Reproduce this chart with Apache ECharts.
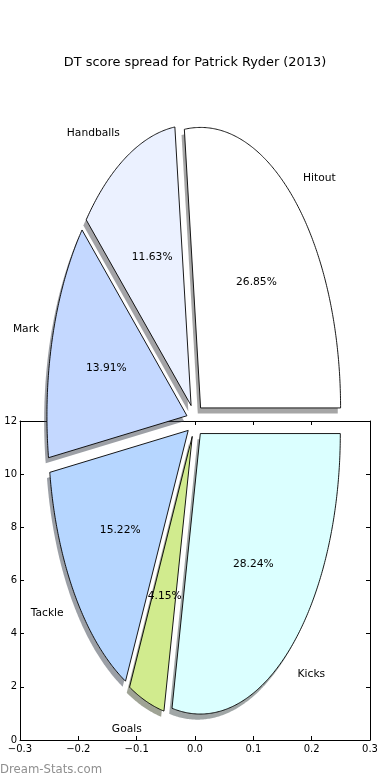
<!DOCTYPE html>
<html>
<head>
<meta charset="utf-8">
<script src="https://cdn.jsdelivr.net/npm/echarts@6/dist/echarts.min.js"></script>
<style>html,body{margin:0;padding:0;background:#fff;}#chart{width:390px;height:780px;}</style>
</head>
<body>
<div id="chart"></div>
<script>
const categories = ['Hitout', 'Handballs', 'Mark', 'Tackle', 'Goals', 'Kicks'];
const shares = [26.85, 11.63, 13.91, 15.22, 4.15, 28.24];
const xTicks = [-0.3, -0.2, -0.1, 0.0, 0.1, 0.2, 0.3];
const yTicks = [0, 2, 4, 6, 8, 10, 12];
const sliceColors = ['#ffffff', '#ebf1ff', '#c4d8ff', '#b6d6ff', '#d1eb8e', '#dbffff'];
const titleText = 'DT score spread for Patrick Ryder (2013)';
const watermark = 'Dream-Stats.com';

const EXPLODE = 0.06, LABEL_DIST = 1.1, PCT_DIST = 0.6, SH_DX = -0.02, SH_DY = -0.02;
const FONT = 'DejaVu Sans';

const total = shares.reduce((a, b) => a + b, 0);
const startDeg = [];
let acc = 0;
shares.forEach(s => { startDeg.push(acc / total * 360); acc += s; });

function hexToRgb(h) {
  return [parseInt(h.slice(1, 3), 16), parseInt(h.slice(3, 5), 16), parseInt(h.slice(5, 7), 16)];
}

function wedge(i, api, dx, dy) {
  const t1 = startDeg[i], t2 = t1 + shares[i] / total * 360;
  const mid = (t1 + t2) / 2 * Math.PI / 180;
  const ox = EXPLODE * Math.cos(mid) + dx, oy = EXPLODE * Math.sin(mid) + dy;
  const pts = [api.coord([ox, oy])];
  const n = Math.max(4, Math.ceil((t2 - t1) / 0.5));
  for (let k = 0; k <= n; k++) {
    const a = (t1 + (t2 - t1) * k / n) * Math.PI / 180;
    pts.push(api.coord([ox + Math.cos(a), oy + Math.sin(a)]));
  }
  return { pts, mid, ox, oy };
}

const chart = echarts.init(document.getElementById('chart'), null, { renderer: 'canvas' });

const axisCommon = {
  axisLine: { onZero: false, lineStyle: { color: '#000', width: 1 } },
  axisTick: { inside: true, length: 4, lineStyle: { color: '#000', width: 1 } },
  splitLine: { show: false }
};

const option = {
  animation: false,
  backgroundColor: '#fff',
  title: {
    text: titleText, left: 'center', top: 51,
    textStyle: { fontFamily: FONT, fontSize: 12.9, fontWeight: 'normal', color: '#000' }
  },
  grid: [
    { left: 20, right: 20, top: 421, bottom: 40 },
    { left: 55, top: 140, width: 280, height: 561, show: false }
  ],
  xAxis: [
    Object.assign({}, axisCommon, {
      type: 'value', gridIndex: 0, position: 'bottom',
      min: xTicks[0], max: xTicks[xTicks.length - 1], interval: 0.1,
      axisLabel: {
        margin: 4, fontFamily: FONT, fontSize: 10, color: '#000',
        formatter: v => (v < -1e-9 ? '\u2212' : '') + Math.abs(v).toFixed(1)
      }
    }),
    { type: 'value', gridIndex: 1, min: -1, max: 1, show: false },
    Object.assign({}, axisCommon, {
      type: 'value', gridIndex: 0, position: 'top',
      min: xTicks[0], max: xTicks[xTicks.length - 1], interval: 0.1,
      axisLabel: { show: false }
    })
  ],
  yAxis: [
    Object.assign({}, axisCommon, {
      type: 'value', gridIndex: 0, position: 'left',
      min: yTicks[0], max: yTicks[yTicks.length - 1], interval: 2,
      axisLabel: { margin: 3, fontFamily: FONT, fontSize: 10, color: '#000' }
    }),
    { type: 'value', gridIndex: 1, min: -1, max: 1, show: false },
    Object.assign({}, axisCommon, {
      type: 'value', gridIndex: 0, position: 'right',
      min: yTicks[0], max: yTicks[yTicks.length - 1], interval: 2,
      axisLabel: { show: false }
    })
  ],
  graphic: [
    {
      type: 'text', left: 0, top: 764,
      style: { text: watermark, font: '11.7px "DejaVu Sans"', fill: '#8f8f8f' }
    }
  ],
  series: [
    {
      type: 'custom', name: 'shadow', coordinateSystem: 'cartesian2d',
      xAxisIndex: 1, yAxisIndex: 1, z: 3, silent: true,
      data: shares.map((s, i) => [i, s]),
      renderItem: (params, api) => {
        const i = params.dataIndex;
        const w = wedge(i, api, SH_DX, SH_DY);
        const c = hexToRgb(sliceColors[i]).map(v => Math.round(v * 0.3));
        return {
          type: 'polygon',
          shape: { points: w.pts },
          style: { fill: `rgba(${c[0]},${c[1]},${c[2]},0.5)`, stroke: null }
        };
      }
    },
    {
      type: 'custom', name: 'wedges', coordinateSystem: 'cartesian2d',
      xAxisIndex: 1, yAxisIndex: 1, z: 5, silent: true,
      data: shares.map((s, i) => [i, s]),
      renderItem: (params, api) => {
        const i = params.dataIndex;
        const w = wedge(i, api, 0, 0);
        const cm = Math.cos(w.mid), sm = Math.sin(w.mid);
        const lp = api.coord([w.ox + LABEL_DIST * cm, w.oy + LABEL_DIST * sm]);
        const pp = api.coord([w.ox + PCT_DIST * cm, w.oy + PCT_DIST * sm]);
        const xt = w.ox + LABEL_DIST * cm;
        return {
          type: 'group',
          children: [
            {
              type: 'polygon',
              shape: { points: w.pts },
              style: { fill: sliceColors[i], stroke: '#000', lineWidth: 0.9, lineJoin: 'miter' }
            },
            {
              type: 'text', z2: 10,
              style: {
                text: categories[i], x: lp[0], y: lp[1] + 1,
                align: xt > 0 ? 'left' : 'right', verticalAlign: 'middle',
                font: '10.7px "DejaVu Sans"', fill: '#000'
              }
            },
            {
              type: 'text', z2: 10,
              style: {
                text: shares[i].toFixed(2) + '%', x: pp[0], y: pp[1] + 0.5,
                align: 'center', verticalAlign: 'middle',
                font: '10.7px "DejaVu Sans"', fill: '#000'
              }
            }
          ]
        };
      }
    }
  ]
};

chart.setOption(option);
</script>
</body>
</html>
